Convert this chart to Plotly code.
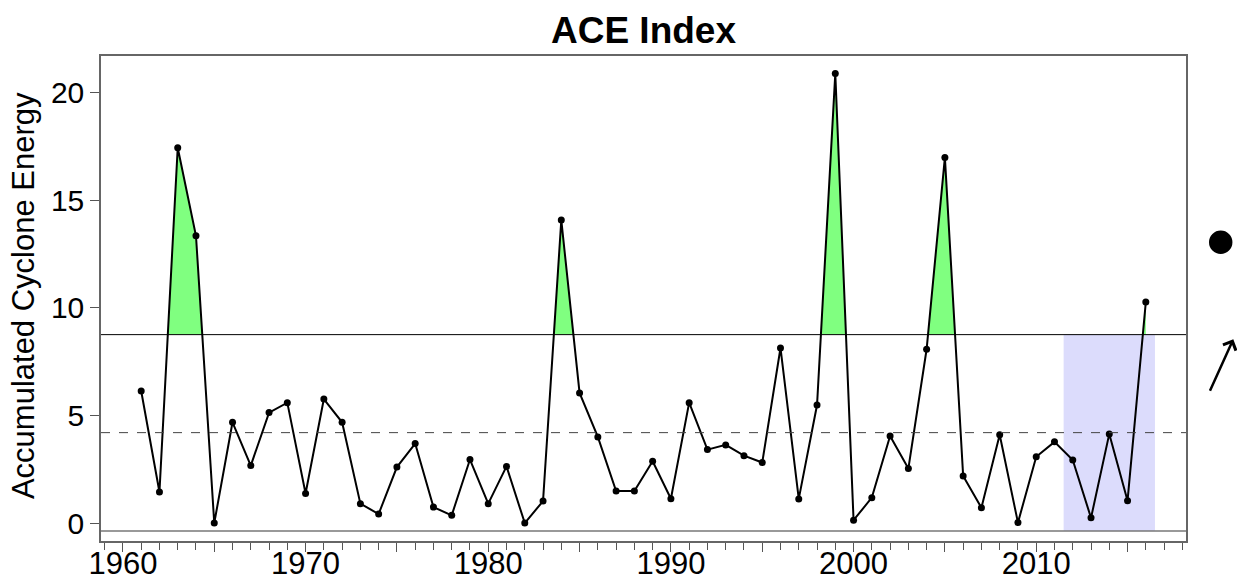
import numpy as np
import plotly.graph_objects as go

# annual ACE values
years = list(range(1961, 2017))
ace = [6.13, 1.44, 17.43, 13.34, 0.00, 4.68, 2.67, 5.13, 5.59, 1.37,
       5.76, 4.68, 0.90, 0.42, 2.60, 3.69, 0.74, 0.36, 2.95, 0.90,
       2.63, 0.00, 1.02, 14.07, 6.04, 4.00, 1.49, 1.49, 2.87, 1.13,
       5.59, 3.41, 3.63, 3.13, 2.81, 8.13, 1.12, 5.48, 20.88, 0.13,
       1.18, 4.04, 2.53, 8.07, 16.98, 2.19, 0.71, 4.10, 0.02, 3.08,
       3.77, 2.93, 0.24, 4.14, 1.04, 10.26]
threshold = 8.75
floor_level = -0.37
recent_window = [2011.5, 2016.5]
x_ticks = list(range(1960, 2016, 5))
x_labels = [str(v) if v % 10 == 0 else '' for v in x_ticks]
y_ticks = [0, 5, 10, 15, 20]

mean_ace = float(np.mean(ace))

# series clipped at the threshold (crossings added) for the green fill
fx, fy = [], []
for i in range(len(years)):
    if i > 0:
        a, b = ace[i - 1], ace[i]
        if (a - threshold) * (b - threshold) < 0:
            t = (threshold - a) / (b - a)
            fx.append(years[i - 1] + t)
            fy.append(threshold)
    fx.append(years[i])
    fy.append(max(ace[i], threshold))

FONT = 'Liberation Sans, Arial, sans-serif'

fig = go.Figure()

fig.add_trace(go.Scatter(x=fx, y=[threshold] * len(fx), mode='lines',
                         line=dict(width=0), hoverinfo='skip', showlegend=False))
fig.add_trace(go.Scatter(x=fx, y=fy, mode='lines', fill='tonexty',
                         fillcolor='#80ff80', line=dict(width=0),
                         hoverinfo='skip', showlegend=False))

fig.add_trace(go.Scatter(x=years, y=ace, mode='lines+markers',
                         line=dict(color='black', width=2),
                         marker=dict(color='black', size=7),
                         showlegend=False))

# recent period box
fig.add_shape(type='rect', xref='x', yref='y',
              x0=recent_window[0], x1=recent_window[1],
              y0=floor_level, y1=threshold,
              fillcolor='#dcdcfc', line=dict(width=0), layer='below')
# reference lines
fig.add_shape(type='line', xref='paper', yref='y', x0=0, x1=1,
              y0=threshold, y1=threshold, line=dict(color='black', width=1))
fig.add_shape(type='line', xref='paper', yref='y', x0=0, x1=1,
              y0=mean_ace, y1=mean_ace,
              line=dict(color='#444444', width=1, dash='dash'))
fig.add_shape(type='line', xref='paper', yref='y', x0=0, x1=1,
              y0=floor_level, y1=floor_level,
              line=dict(color='#777777', width=1.5))

# side glyphs
fig.add_shape(type='circle', xref='paper', yref='paper',
              x0=1.0212, x1=1.0428, y0=0.5918, y1=0.6400,
              fillcolor='black', line=dict(width=0))
fig.add_annotation(x=1.0436, y=0.4159, xref='paper', yref='paper',
                   ax=-24, ay=53, text='', showarrow=True,
                   arrowhead=4, arrowwidth=2.5, arrowsize=1.1, arrowcolor='black')

fig.add_annotation(x=-0.0719, y=0.507, xref='paper', yref='paper',
                   xanchor='center', yanchor='middle',
                   text='Accumulated Cyclone Energy', textangle=-90,
                   showarrow=False, font=dict(size=31, color='black', family=FONT))

fig.update_xaxes(range=[1958.8, 2018.2], tickvals=x_ticks, ticktext=x_labels,
                 ticks='outside', ticklen=9, tickcolor='#555555',
                 ticklabelstandoff=-15,
                 minor=dict(dtick=1, ticks='outside', ticklen=7, tickcolor='#555555'),
                 showline=True, mirror=True, linecolor='#666666', linewidth=1.5,
                 showgrid=False, zeroline=False, automargin=False,
                 tickfont=dict(size=31, color='black', family=FONT))
fig.update_yaxes(range=[-0.834, 21.69], tickvals=y_ticks,
                 ticks='outside', ticklen=9, tickcolor='#555555',
                 showline=True, mirror=True, linecolor='#666666', linewidth=1.5,
                 showgrid=False, zeroline=False, automargin=False,
                 tickfont=dict(size=30, color='black', family=FONT))

fig.update_layout(
    width=1237, height=580,
    margin=dict(l=101, r=51, t=56, b=39),
    paper_bgcolor='white', plot_bgcolor='white',
    font=dict(family=FONT, color='black'),
    title=dict(text='<b>ACE Index</b>', x=0.5, xref='paper',
               y=0.948, yref='container', yanchor='middle',
               font=dict(size=37, color='black', family=FONT)),
)

fig.write_html("out.html", config={'displayModeBar': False},
               post_script="document.body.style.margin='0';document.body.style.overflow='hidden';")
